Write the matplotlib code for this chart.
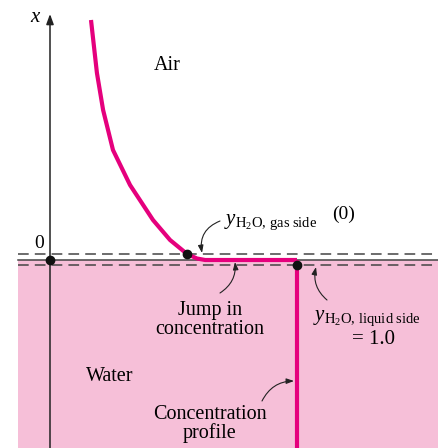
import matplotlib
matplotlib.use("Agg")
import matplotlib.pyplot as plt

plt.rcParams['font.family'] = ['Liberation Serif', 'DejaVu Serif']
plt.rcParams['mathtext.fontset'] = 'custom'
plt.rcParams['mathtext.rm'] = 'Liberation Serif'
plt.rcParams['mathtext.it'] = 'Liberation Serif:italic'

# 气相中水的浓度分布 (浓度, 高度)
conc_gas = [0.166, 0.190, 0.215, 0.255, 0.324, 0.417, 0.486, 0.555, 0.595, 0.628, 1.0]
height_gas = [2.40, 1.87, 1.50, 1.10, 0.75, 0.40, 0.20, 0.06, 0.015, 0.0, 0.0]
# 液相: 浓度 = 1.0
conc_liq = [1.0, 1.0]
height_liq = [0.0, -1.88]
# 界面两侧的点
gas_side = (0.555, 0.06)
liq_side = (1.0, -0.05)
origin = (0.0, 0.0)
h_gas_dash = 0.06
h_liq_dash = -0.05

W, H = 438, 448
PINK = '#E5007D'
FILL = '#F6BFD8'
GREY = '#444444'

fig = plt.figure(figsize=(4.38, 4.48), dpi=100)
ax = fig.add_axes([0, 0, 1, 1])
ax.set_xlim(-50 / 247, 388 / 247)
ax.set_ylim(-1.88, 2.60)
ax.axis('off')


def P(px, py):
    return (px / W, 1 - py / H)


# 水区域
x0 = 18 / W
ax.axhspan(-1.88, 0.0, xmin=x0, xmax=1, color=FILL, lw=0, zorder=0)

# 界面线
ax.axhline(0.0, xmin=x0, xmax=1, color=GREY, lw=1.1, zorder=1)
ax.axhline(h_gas_dash, xmin=x0, xmax=1, color=GREY, lw=1.1, ls=(0, (7, 4)), zorder=1)
ax.axhline(h_liq_dash, xmin=x0, xmax=1, color=GREY, lw=1.1, ls=(0, (7, 4)), zorder=1)

# 纵轴
ax.annotate('', xy=(0, 2.46), xytext=(0, -1.88),
            arrowprops=dict(arrowstyle='-|>,head_length=0.6,head_width=0.22',
                            color='#222222', lw=1.1, shrinkA=0, shrinkB=0), zorder=2)

# 浓度曲线
ax.plot(conc_gas, height_gas, color=PINK, lw=3, solid_capstyle='butt', zorder=3)
ax.plot(conc_liq, height_liq, color=PINK, lw=3, solid_capstyle='butt', zorder=3)

for pt in (gas_side, liq_side, origin):
    ax.plot(*pt, 'o', color='#111111', ms=6, zorder=4)

tf = ax.transAxes
ax.text(*P(35, 18), 'x', style='italic', fontsize=15, ha='center', va='center', transform=tf)
ax.text(*P(39, 243), '0', fontsize=14, ha='center', va='center', transform=tf)
ax.text(*P(167, 65), 'Air', fontsize=14.5, ha='center', va='center', transform=tf)
ax.text(*P(110, 376), 'Water', fontsize=14.5, ha='center', va='center', transform=tf)
ax.text(*P(210, 320), 'Jump in\nconcentration', fontsize=14.5, ha='center', va='center',
        linespacing=1.0, transform=tf)
ax.text(*P(210, 424), 'Concentration\nprofile', fontsize=14.5, ha='center', va='center',
        linespacing=1.0, transform=tf)
ax.text(*P(224, 222), r'$y_{\mathrm{H_2O,\,gas\ side}}$', fontsize=15, ha='left', va='center',
        transform=tf)
ax.text(*P(344, 214), '(0)', fontsize=14, ha='center', va='center', transform=tf)
ax.text(*P(313, 318), r'$y_{\mathrm{H_2O,\,liquid\ side}}$', fontsize=15, ha='left', va='center',
        transform=tf)
ax.text(*P(373, 340), '= 1.0', fontsize=15, ha='center', va='center', transform=tf)

arrow = dict(arrowstyle='-|>,head_length=0.45,head_width=0.16', color='#222222', lw=0.8,
             shrinkA=0, shrinkB=0)
ax.annotate('', xy=P(202, 253), xytext=P(220, 221), xycoords=tf, textcoords=tf,
            arrowprops=dict(arrow, connectionstyle='arc3,rad=0.4'))
ax.annotate('', xy=P(235, 262), xytext=P(220, 293), xycoords=tf, textcoords=tf,
            arrowprops=dict(arrow, connectionstyle='arc3,rad=0.3'))
ax.annotate('', xy=P(316, 267), xytext=P(327, 300), xycoords=tf, textcoords=tf,
            arrowprops=dict(arrow, connectionstyle='arc3,rad=-0.3'))
ax.annotate('', xy=P(294, 381), xytext=P(262, 401), xycoords=tf, textcoords=tf,
            arrowprops=dict(arrow, connectionstyle='arc3,rad=-0.3'))

fig.savefig('out.png', dpi=100, facecolor='white')
